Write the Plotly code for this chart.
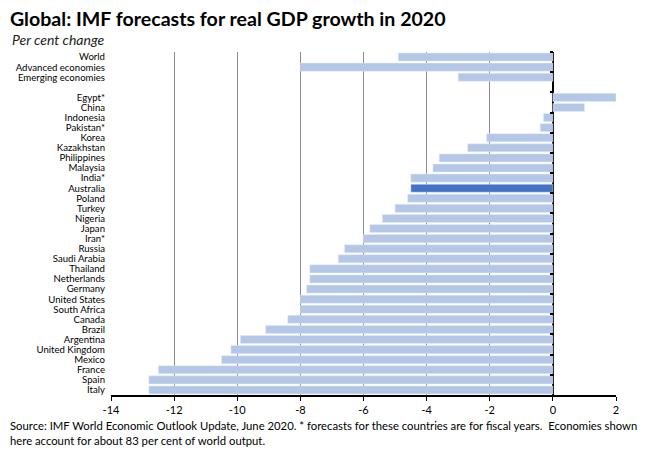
import plotly.graph_objects as go

# IMF June 2020 forecasts, per cent change
economies = ["World", "Advanced economies", "Emerging economies", " ",
             "Egypt*", "China", "Indonesia", "Pakistan*", "Korea", "Kazakhstan",
             "Philippines", "Malaysia", "India*", "Australia", "Poland", "Turkey",
             "Nigeria", "Japan", "Iran*", "Russia", "Saudi Arabia", "Thailand",
             "Netherlands", "Germany", "United States", "South Africa", "Canada",
             "Brazil", "Argentina", "United Kingdom", "Mexico", "France", "Spain", "Italy"]
growth = [-4.9, -8.0, -3.0, None,
          2.0, 1.0, -0.3, -0.4, -2.1, -2.7,
          -3.6, -3.8, -4.5, -4.5, -4.6, -5.0,
          -5.4, -5.8, -6.0, -6.6, -6.8, -7.7,
          -7.7, -7.8, -8.0, -8.0, -8.4,
          -9.1, -9.9, -10.2, -10.5, -12.5, -12.8, -12.8]
x_ticks = list(range(-14, 3, 2))

highlight = "Australia"
colours = ["#4472C4" if e == highlight else "#B4C7E7" for e in economies]

font = "Lato"

fig = go.Figure()
fig.add_trace(go.Bar(x=growth, y=economies, orientation="h",
                     marker=dict(color=colours, line=dict(width=0)),
                     hoverinfo="x+y"))
# invisible copy so the category axis drawn at zero gets its tick marks
fig.add_trace(go.Bar(x=growth, y=economies, orientation="h", yaxis="y2",
                     marker=dict(color="rgba(0,0,0,0)"), hoverinfo="skip"))

# page body has an 8px margin, so the figure is offset a little
fig.update_layout(
    width=650, height=455,
    margin=dict(l=103, r=42, t=44, b=68, autoexpand=False),
    plot_bgcolor="white", paper_bgcolor="white",
    bargap=0.2, barmode="overlay", showlegend=False,
    font=dict(family=font, color="black"),
    title=dict(text="<b>Global: IMF forecasts for real GDP growth in 2020</b>",
               x=0.003, xanchor="left", xref="container",
               y=0.976, yanchor="middle", yref="container",
               font=dict(size=19.6, family=font, color="black")),
    xaxis=dict(range=[-14, 2], tickvals=x_ticks, ticktext=[str(v) for v in x_ticks],
               showgrid=True, gridcolor="#8c8c8c", gridwidth=1,
               zeroline=True, zerolinecolor="black", zerolinewidth=1.5,
               showline=True, linecolor="black", linewidth=1.5,
               ticks="outside", ticklen=4, tickcolor="black",
               tickfont=dict(size=11, family=font), automargin=False),
    yaxis=dict(type="category", categoryorder="array", categoryarray=economies,
               tickmode="array", tickvals=economies, ticktext=economies,
               range=[len(economies) - 0.5, -0.5], showgrid=False, showline=False, ticks="",
               tickfont=dict(size=9.6, family=font), ticklabelstandoff=5, automargin=False),
    yaxis2=dict(type="category", categoryorder="array", categoryarray=economies,
                range=[len(economies) - 0.5, -0.5], overlaying="y", anchor="free", position=14 / 16,
                showline=False, showticklabels=False, ticks="outside",
                tickson="boundaries", ticklen=3, tickwidth=1.5, tickcolor="black", showgrid=False),
)

fig.add_annotation(text="<i>Per cent change</i>", xref="paper", yref="paper",
                   x=-0.2, y=1.035, xanchor="left", yanchor="middle", showarrow=False,
                   font=dict(size=14, family=font, color="#222"))
fig.add_annotation(text="Source: IMF World Economic Outlook Update, June 2020. * forecasts for these countries are for fiscal years.  Economies shown<br>here account for about 83 per cent of world output.",
                   xref="paper", yref="paper", x=-0.204, y=-0.065,
                   xanchor="left", yanchor="top", align="left", showarrow=False,
                   font=dict(size=11.3, family=font, color="black"))

fig.write_html("out.html")
